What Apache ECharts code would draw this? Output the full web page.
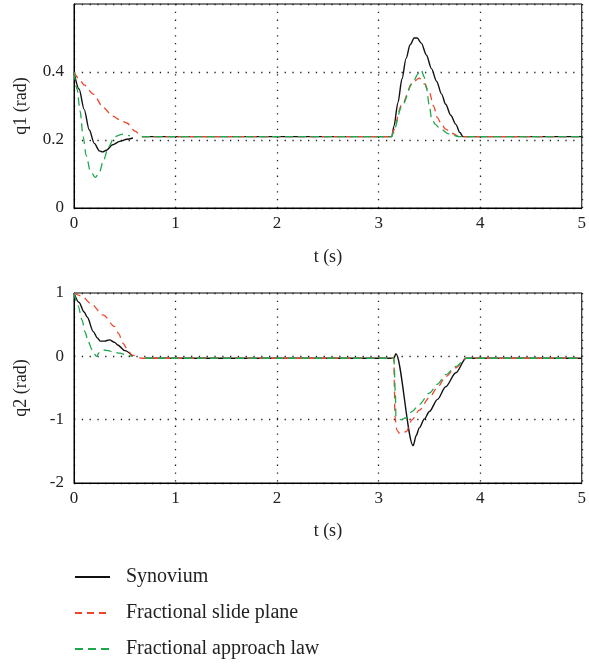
<!DOCTYPE html>
<html>
<head>
<meta charset="utf-8">
<script src="https://cdn.jsdelivr.net/npm/echarts@6/dist/echarts.min.js"></script>
<style>
  html, body { margin: 0; padding: 0; background: #fff; }
  #chart { width: 589px; height: 665px; }
</style>
</head>
<body>
<div id="chart"></div>
<script>
const seriesNames = ['Synovium', 'Fractional slide plane', 'Fractional approach law']
const xTicks = [0, 1, 2, 3, 4, 5]

// q1 (rad), [t, value]
const q1Synovium = [
  [0, 0.4], [0.05, 0.35], [0.1, 0.29], [0.15, 0.23], [0.2, 0.19], [0.25, 0.168], [0.28, 0.165],
  [0.32, 0.17], [0.38, 0.186], [0.45, 0.196], [0.52, 0.202], [0.58, 0.206], [0.62, null],
  [0.67, 0.21], [3.13, 0.21], [3.15, 0.24], [3.19, 0.31], [3.23, 0.38], [3.27, 0.44], [3.31, 0.48],
  [3.35, 0.5], [3.38, 0.5], [3.42, 0.485], [3.47, 0.45], [3.52, 0.41], [3.57, 0.373], [3.62, 0.335],
  [3.66, 0.305], [3.71, 0.273], [3.76, 0.246], [3.8, 0.222], [3.83, 0.21], [5, 0.21]
]
const q1Slide = [
  [0, 0.4], [0.05, 0.38], [0.1, 0.362], [0.19, 0.335], [0.29, 0.295], [0.38, 0.27], [0.46, 0.258],
  [0.52, 0.25], [0.6, 0.226], [0.67, 0.21], [3.13, 0.21], [3.14, 0.226], [3.23, 0.305], [3.33, 0.367],
  [3.4, 0.382], [3.45, 0.365], [3.5, 0.34], [3.54, 0.3], [3.58, 0.265], [3.62, 0.245], [3.66, 0.232],
  [3.72, 0.22], [3.79, 0.21], [5, 0.21]
]
const q1Approach = [
  [0, 0.4], [0.03, 0.35], [0.06, 0.285], [0.09, 0.21], [0.12, 0.155], [0.16, 0.11], [0.21, 0.09],
  [0.25, 0.105], [0.29, 0.14], [0.34, 0.18], [0.4, 0.21], [0.48, 0.217], [0.55, 0.212], [0.6, null],
  [0.67, 0.21], [3.13, 0.21], [3.14, 0.22], [3.23, 0.3], [3.33, 0.365], [3.39, 0.395], [3.42, 0.405],
  [3.45, 0.385], [3.47, 0.353], [3.5, 0.3], [3.52, 0.265], [3.56, 0.245], [3.6, 0.235], [3.69, 0.218],
  [3.79, 0.21], [5, 0.21]
]

// q2 (rad), [t, value]
const q2Synovium = [
  [0, 1], [0.05, 0.85], [0.1, 0.7], [0.13, 0.62], [0.19, 0.39], [0.23, 0.29], [0.26, 0.24], [0.3, 0.24],
  [0.35, 0.26], [0.4, 0.22], [0.43, 0.18], [0.5, 0.09], [0.58, 0], [0.64, null], [0.7, -0.03],
  [3.15, -0.03], [3.17, 0.04], [3.34, -1.41], [3.37, -1.25], [3.4, -1.13], [3.45, -0.99], [3.5, -0.87],
  [3.58, -0.68], [3.66, -0.48], [3.76, -0.26], [3.86, -0.03], [5, -0.03]
]
const q2Slide = [
  [0, 1], [0.08, 0.95], [0.16, 0.84], [0.29, 0.65], [0.4, 0.47], [0.44, 0.36], [0.48, 0.21], [0.53, 0.1],
  [0.57, 0.02], [0.67, -0.03], [3.15, -0.03], [3.155, -0.5], [3.16, -0.95], [3.18, -1.17], [3.21, -1.22],
  [3.27, -1.19], [3.33, -1.0], [3.4, -0.85], [3.5, -0.65], [3.58, -0.49], [3.66, -0.32], [3.76, -0.18],
  [3.86, -0.03], [5, -0.03]
]
const q2Approach = [
  [0, 1], [0.04, 0.8], [0.08, 0.57], [0.11, 0.38], [0.14, 0.23], [0.18, 0.1], [0.22, 0], [0.25, 0.06],
  [0.29, 0.1], [0.34, 0.09], [0.38, 0.07], [0.45, 0.05], [0.52, 0.02], [0.57, 0], [0.63, null],
  [0.7, -0.03], [3.15, -0.03], [3.165, -0.6], [3.17, -0.95], [3.22, -1.0], [3.27, -0.97], [3.33, -0.87],
  [3.4, -0.76], [3.5, -0.58], [3.58, -0.44], [3.66, -0.29], [3.76, -0.16], [3.86, -0.03], [5, -0.03]
]

const font = 'Liberation Serif'
const colors = ['#111111', '#f0452a', '#1fa84f']
const dashes = ['solid', [7, 5], [8, 5]]

const dotted = { show: true, lineStyle: { color: '#222', width: 1.3, type: [1.3, 6.5] } }

const xAxis = (gridIndex, gap) => ({
  gridIndex,
  type: 'value',
  min: xTicks[0],
  max: xTicks[xTicks.length - 1],
  interval: 1,
  name: 't (s)',
  nameLocation: 'middle',
  nameGap: gap,
  nameTextStyle: { fontFamily: font, fontSize: 18, color: '#222' },
  axisLine: { show: true, onZero: false, lineStyle: { color: '#000', width: 1 } },
  axisTick: { show: false },
  axisLabel: { fontFamily: font, fontSize: 17, color: '#222', margin: 7 },
  splitLine: dotted
})

const yAxis = (gridIndex, name, min, max, interval, hide) => ({
  gridIndex,
  type: 'value',
  min,
  max,
  interval,
  name,
  nameLocation: 'middle',
  nameGap: 44,
  nameTextStyle: { fontFamily: font, fontSize: 18, color: '#222' },
  axisLine: { show: true, onZero: false, lineStyle: { color: '#000', width: 1 } },
  axisTick: { show: false },
  axisLabel: {
    fontFamily: font,
    fontSize: 17,
    color: '#222',
    margin: 10,
    formatter: (v) => (v === hide ? '' : String(v))
  },
  splitLine: dotted
})

const line = (name, idx, data, axis) => ({
  name,
  type: 'line',
  xAxisIndex: axis,
  yAxisIndex: axis,
  data,
  symbol: 'none',
  smooth: 0.3,
  smoothMonotone: 'x',
  connectNulls: false,
  z: 3 + idx,
  lineStyle: { color: colors[idx], width: idx === 0 ? 1.4 : 1.3, type: dashes[idx] },
  itemStyle: { color: colors[idx] }
})

const option = {
  animation: false,
  backgroundColor: '#fff',
  grid: [
    { left: 74, right: 6, top: 4, height: 204, show: true, borderColor: '#000', borderWidth: 1, backgroundColor: 'transparent' },
    { left: 74, right: 6, top: 293, height: 190, show: true, borderColor: '#000', borderWidth: 1, backgroundColor: 'transparent' }
  ],
  legend: {
    orient: 'vertical',
    left: 74,
    top: 567,
    padding: 0,
    itemWidth: 35,
    itemHeight: 10,
    itemGap: 16,
    data: seriesNames,
    itemStyle: { opacity: 0 },
    textStyle: { fontFamily: font, fontSize: 20, color: '#222', padding: [0, 0, 0, 11] }
  },
  xAxis: [xAxis(0, 40), xAxis(1, 39)],
  yAxis: [
    yAxis(0, 'q1 (rad)', 0, 0.6, 0.2, 0.6),
    yAxis(1, 'q2 (rad)', -2, 1, 1, null)
  ],
  series: [
    line(seriesNames[0], 0, q1Synovium, 0),
    line(seriesNames[1], 1, q1Slide, 0),
    line(seriesNames[2], 2, q1Approach, 0),
    line(seriesNames[0], 0, q2Synovium, 1),
    line(seriesNames[1], 1, q2Slide, 1),
    line(seriesNames[2], 2, q2Approach, 1)
  ]
}

const myChart = echarts.init(document.getElementById('chart'), null, { renderer: 'canvas' })
myChart.setOption(option)
</script>
</body>
</html>
